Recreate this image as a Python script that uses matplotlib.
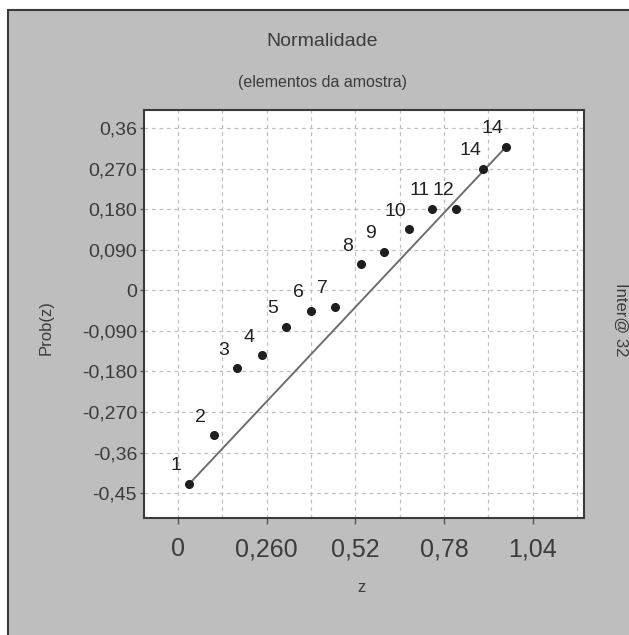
import matplotlib.pyplot as plt
from matplotlib.patches import Rectangle

# valores
z_vals = [0.033, 0.104, 0.173, 0.246, 0.316, 0.390, 0.461,
          0.535, 0.603, 0.676, 0.745, 0.816, 0.894, 0.961]
prob_vals = [-0.429, -0.321, -0.173, -0.144, -0.081, -0.045, -0.036,
             0.058, 0.086, 0.136, 0.181, 0.181, 0.270, 0.318]
point_labels = ['1', '2', '3', '4', '5', '6', '7', '8', '9', '10',
                '11', '12', '14', '14']

# reta de referencia
line_z = [0.033, 0.961]
line_prob = [-0.429, 0.318]

x_ticks = [0, 0.26, 0.52, 0.78, 1.04]
x_ticklabels = ['0', '0,260', '0,52', '0,78', '1,04']
x_minor = [0.13, 0.39, 0.65, 0.91, 1.17]
y_ticks = [0.36, 0.27, 0.18, 0.09, 0, -0.09, -0.18, -0.27, -0.36, -0.45]
y_ticklabels = ['0,36', '0,270', '0,180', '0,090', '0', '-0,090',
                '-0,180', '-0,270', '-0,36', '-0,45']

plt.rcParams['font.family'] = ['Liberation Sans', 'DejaVu Sans']
txt = '#3c3c3c'

W, H = 629, 635
fig = plt.figure(figsize=(W / 100, H / 100), dpi=100)
fig.patch.set_facecolor('white')

# painel cinza de fundo
panel = Rectangle((8 / W, -0.01), 1.0, 1 - 10 / H + 0.01, transform=fig.transFigure,
                  facecolor='#bebebe', edgecolor='#3a3a3a', linewidth=1.5, zorder=-10)
fig.patches.append(panel)

ax = fig.add_axes([144 / W, 1 - 518 / H, 440 / W, 408 / H])
ax.set_zorder(1)
ax.set_facecolor('white')

ax.plot(line_z, line_prob, color='#6e6e6e', linewidth=1.4, zorder=3)
ax.plot(z_vals, prob_vals, 'o', color='#1e1e1e', markersize=5.5, zorder=4)

for zv, pv, lab in zip(z_vals, prob_vals, point_labels):
    ax.annotate(lab, (zv, pv), xytext=(-13, 18), textcoords='offset pixels',
                ha='center', va='center', fontsize=14, color='#222222', zorder=5)

ax.set_xlim(-0.1, 1.19)
ax.set_ylim(-0.505, 0.40)

ax.set_xticks(x_ticks)
ax.set_xticklabels(x_ticklabels, fontsize=18, color=txt)
ax.set_xticks(x_minor, minor=True)
ax.set_yticks(y_ticks)
ax.set_yticklabels(y_ticklabels, fontsize=14, color=txt)

ax.tick_params(axis='x', which='major', length=4, width=1, color='#555555', pad=10)
ax.tick_params(axis='x', which='minor', length=0)
ax.tick_params(axis='y', length=3, width=1, color='#555555', pad=2)

ax.grid(True, which='both', axis='x', linestyle=(0, (3, 3)), color='#c0c0c0', linewidth=0.9)
ax.grid(True, which='major', axis='y', linestyle=(0, (3, 3)), color='#c0c0c0', linewidth=0.9)
ax.set_axisbelow(True)

for s in ax.spines.values():
    s.set_color('#3a3a3a')
    s.set_linewidth(1.5)

fig.text(322 / W, 1 - 42 / H, 'Normalidade', ha='center', va='center',
         fontsize=14, color=txt)
fig.text(322 / W, 1 - 83 / H, '(elementos da amostra)', ha='center', va='center',
         fontsize=11.5, color=txt)
fig.text(46 / W, 1 - 328 / H, 'Prob(z)', rotation=90, ha='center', va='center',
         fontsize=12, color=txt)
fig.text(361 / W, 1 - 587 / H, 'z', ha='center', va='center', fontsize=12, color=txt)
fig.text(621 / W, 1 - 320 / H, 'Inter@ 32', rotation=270, ha='center', va='center',
         fontsize=12, color=txt)

fig.savefig('out.png', dpi=100)
